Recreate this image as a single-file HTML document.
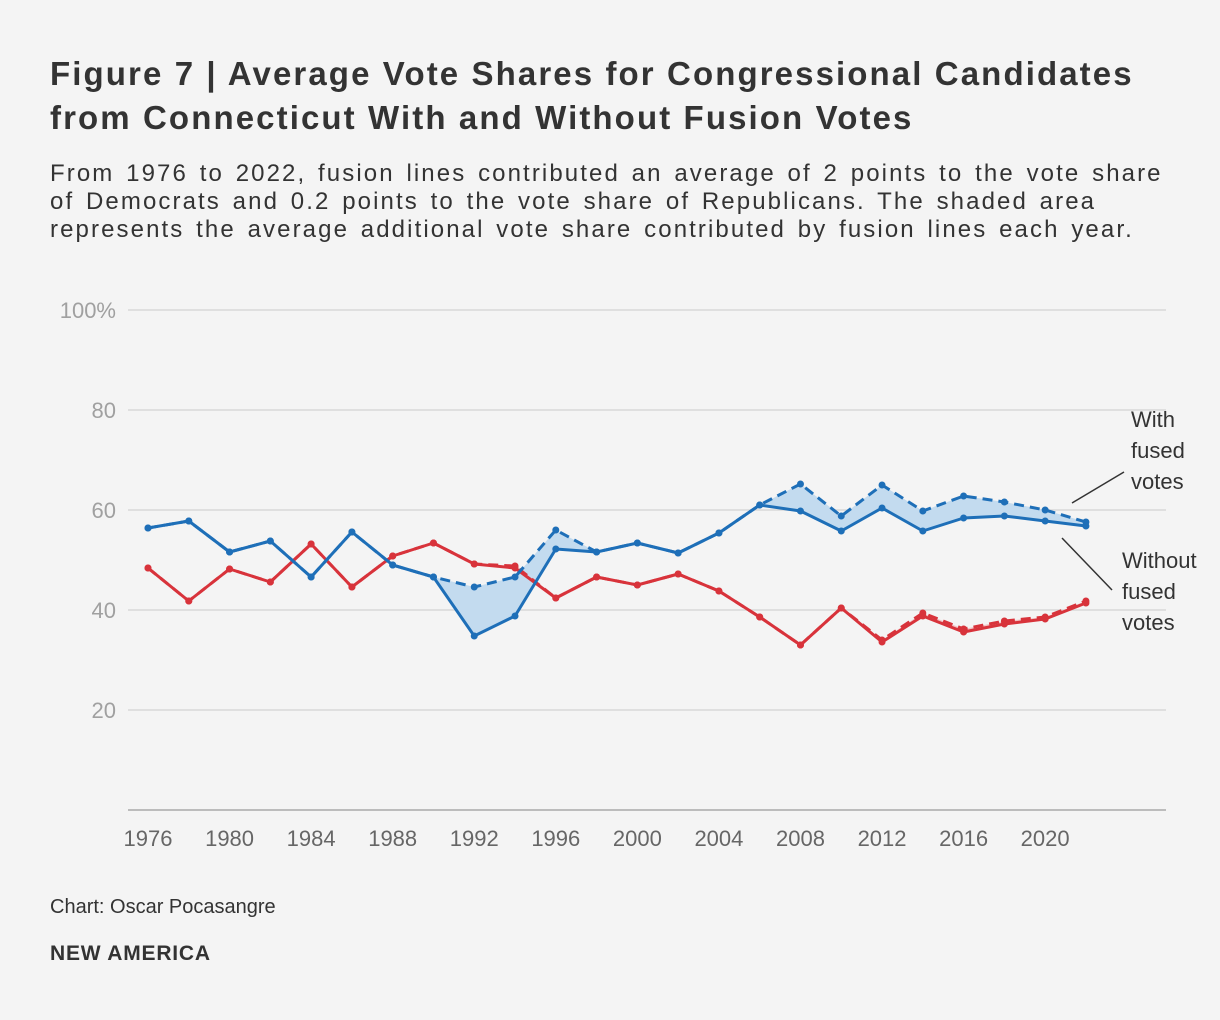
<!DOCTYPE html>
<html><head><meta charset="utf-8"><style>
body{margin:0;background:#f4f4f4;font-family:"Liberation Sans",sans-serif;}
#wrap{position:relative;width:1220px;height:1020px;overflow:hidden;}
h1{position:absolute;left:50px;top:52px;margin:0;font-size:33px;line-height:44px;font-weight:bold;color:#333;width:1170px;letter-spacing:2.1px;white-space:nowrap;}
#sub{position:absolute;left:50px;top:160px;margin:0;font-size:24px;line-height:28px;color:#333;width:1170px;letter-spacing:2.1px;word-spacing:3px;white-space:nowrap;}
#credit{position:absolute;left:50px;top:896px;font-size:20px;color:#333;}
#brand{position:absolute;left:50px;top:942px;font-size:21px;font-weight:bold;color:#333;letter-spacing:0.8px;}
svg{position:absolute;left:0;top:0;}
</style></head><body>
<div id="wrap">
<h1>Figure 7 | Average Vote Shares for Congressional Candidates<br>from Connecticut With and Without Fusion Votes</h1>
<p id="sub">From 1976 to 2022, fusion lines contributed an average of 2 points to the vote share<br>of Democrats and 0.2 points to the vote share of Republicans. The shaded area<br>represents the average additional vote share contributed by fusion lines each year.</p>
<svg id="chart" width="1220" height="1020"></svg>
<div id="credit">Chart: Oscar Pocasangre</div>
<div id="brand">NEW AMERICA</div>
</div>
<script>
const years=[1976,1978,1980,1982,1984,1986,1988,1990,1992,1994,1996,1998,2000,2002,2004,2006,2008,2010,2012,2014,2016,2018,2020,2022];
const demWithout=[56.4,57.8,51.6,53.8,46.6,55.6,49,46.6,34.8,38.8,52.2,51.6,53.4,51.4,55.4,61,59.8,55.8,60.4,55.8,58.4,58.8,57.8,56.8];
const demWith=[56.4,57.8,51.6,53.8,46.6,55.6,49,46.6,44.6,46.6,56,51.6,53.4,51.4,55.4,61,65.2,58.8,65,59.8,62.8,61.6,60,57.6];
const repWithout=[48.4,41.8,48.2,45.6,53.2,44.6,50.8,53.4,49.2,48.4,42.4,46.6,45,47.2,43.8,38.6,33,40.4,33.6,38.8,35.6,37.2,38.2,41.4];
const repWith=[48.4,41.8,48.2,45.6,53.2,44.6,50.8,53.4,49.2,48.8,42.4,46.6,45,47.2,43.8,38.6,33,40.4,34,39.4,36.2,37.8,38.6,41.8];
const yTicks=[20,40,60,80,100];
const xTicks=[1976,1980,1984,1988,1992,1996,2000,2004,2008,2012,2016,2020];
const NS="http://www.w3.org/2000/svg";
const svg=document.getElementById('chart');
const x=v=>148+(v-1976)*20.39;
const y=v=>810-v*5;
function mk(t,a){const e=document.createElementNS(NS,t);for(const k in a)e.setAttribute(k,a[k]);svg.appendChild(e);return e;}
yTicks.forEach(t=>{
 const l=mk('line',{x1:128,x2:1166,y1:y(t),y2:y(t),stroke:'#d8d8d8','stroke-width':1.5});
 
 
 const tx=mk('text',{x:116,y:y(t)+8,'text-anchor':'end','font-size':22,fill:'#a0a0a0','font-family':'Liberation Sans'});
 tx.textContent=t===100?'100%':t;
 
 
});
const base=mk('line',{x1:128,x2:1166,y1:810,y2:810,stroke:'#aaa','stroke-width':1.5});


xTicks.forEach(t=>{
 const tx=mk('text',{x:x(t),y:846,'text-anchor':'middle','font-size':22,fill:'#666','font-family':'Liberation Sans'});
 tx.textContent=t;
 
 
});
function area(a,b,fill,name){
 let d='M'+years.map((yr,i)=>x(yr)+','+y(a[i])).join('L');
 d+='L'+years.map((yr,i)=>x(yr)+','+y(b[i])).reverse().join('L')+'Z';
 const p=mk('path',{d:d,fill:fill});
 
 
}
area(demWith,demWithout,'#c3dbef','dem-fusion-area');
area(repWith,repWithout,'#f2c4c6','rep-fusion-area');
function line(v,col,dash,name){
 const p=mk('polyline',{points:years.map((yr,i)=>x(yr)+','+y(v[i])).join(' '),fill:'none',stroke:col,'stroke-width':3,'stroke-dasharray':dash?'10 6':'none','stroke-linejoin':'round'});
 
 
 v.forEach((val,i)=>{
  const c=mk('circle',{cx:x(years[i]),cy:y(val),r:3.5,fill:col});
  
  
 });
}
line(repWith,'#d8333b',true,'rep-with-fused-line');
line(repWithout,'#d8333b',false,'rep-without-fused-line');
line(demWith,'#1e6fb8',true,'dem-with-fused-line');
line(demWithout,'#1e6fb8',false,'dem-without-fused-line');
function lbl(lines,lx,ly,name){
 lines.forEach((s,i)=>{const t=mk('text',{x:lx,y:ly+i*31,'font-size':22,fill:'#333','font-family':'Liberation Sans'});t.textContent=s;
 
 });
}
const a1=mk('line',{x1:1072,y1:503,x2:1124,y2:472,stroke:'#333','stroke-width':1.5});


const a2=mk('line',{x1:1062,y1:538,x2:1112,y2:590,stroke:'#333','stroke-width':1.5});


lbl(['With','fused','votes'],1131,427,'with-fused-annotation');
lbl(['Without','fused','votes'],1122,568,'without-fused-annotation');
</script>
</body></html>
